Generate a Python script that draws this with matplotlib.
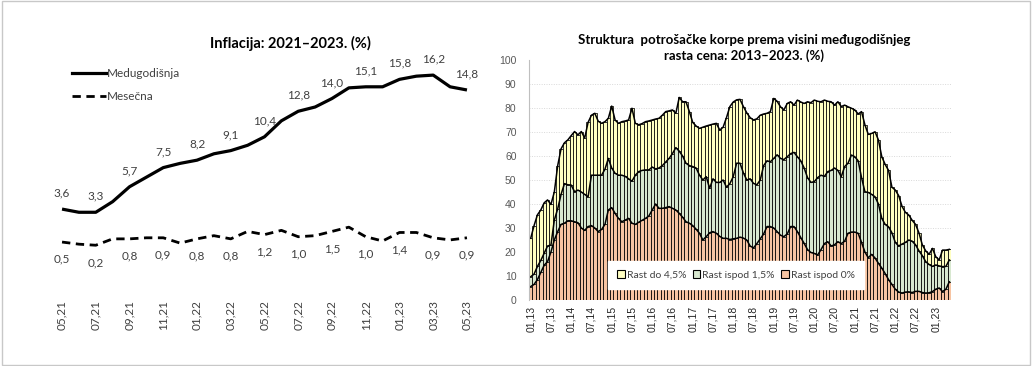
import numpy as np
import matplotlib
matplotlib.use('Agg')
import matplotlib.pyplot as plt
from matplotlib.patches import Rectangle, Patch
from matplotlib.lines import Line2D

plt.rcParams['font.family'] = ['Lato', 'DejaVu Sans']

# ---- lijevi grafikon: inflacija 05/21 - 05/23 ----
meseci = ['05,21', '06,21', '07,21', '08,21', '09,21', '10,21', '11,21', '12,21',
          '01,22', '02,22', '03,22', '04,22', '05,22', '06,22', '07,22', '08,22',
          '09,22', '10,22', '11,22', '12,22', '01,23', '02,23', '03,23', '04,23', '05,23']
medjugodisnja = [3.6, 3.3, 3.3, 4.3, 5.7, 6.6, 7.5, 7.9, 8.2, 8.8, 9.1, 9.6, 10.4,
                 11.9, 12.8, 13.2, 14.0, 15.0, 15.1, 15.1, 15.8, 16.1, 16.2, 15.1, 14.8]
mesecna = [0.5, 0.3, 0.2, 0.8, 0.8, 0.9, 0.9, 0.4, 0.8, 1.1, 0.8, 1.5, 1.2,
           1.6, 1.0, 1.1, 1.5, 1.9, 1.0, 0.6, 1.4, 1.4, 0.9, 0.7, 0.9]

# ---- desni grafikon: struktura korpe 01/13 - 05/23 (kumulativno, %) ----
rast_do_45 = [25.7, 31, 35.5, 37.5, 40.5, 41.7, 39.8, 45, 56, 63, 65.5, 66.7,
              68.5, 70.2, 68.8, 70.2, 67.5, 74, 77, 77.8, 74.5, 73.6, 74.3, 75.7,
              80.8, 75, 73.6, 74.3, 74.6, 75, 79.9, 73.6, 73, 73.5, 74.3, 74.6,
              75, 75.4, 75.7, 77, 78.5, 78.8, 79.2, 77.8, 84.4, 82.6, 82.6, 78.5,
              74, 72.5, 71.5, 72, 72.5, 72.9, 73.3, 73.6, 70.8, 72, 76, 80.6,
              82.5, 83.4, 83.6, 80.6, 78, 76, 75, 75.5, 77, 77.5, 77.8, 78.5,
              84, 82.8, 80.5, 79.2, 81.9, 82.6, 81.2, 83.3, 82.5, 81.9, 82.6, 82.2,
              83.3, 82.8, 82.6, 83.3, 82.8, 82.6, 81.2, 82.6, 80.6, 81.2, 80.5, 79.9,
              79.2, 77.5, 78.5, 73, 69, 69.4, 70.1, 66.7, 59.7, 56.5, 54, 47,
              45.8, 43.5, 39, 36.5, 35.4, 33.2, 31.5, 28, 23, 20.5, 19, 21.5,
              18, 16.7, 20.8, 20.8, 21.1]
rast_ispod_15 = [9.7, 10.8, 14, 16.5, 19.5, 22.5, 22.9, 33.3, 38, 44, 48.5, 48,
                 47.9, 45.1, 45.8, 45, 44, 43, 52, 52, 52, 52, 54.5, 59,
                 55, 52.8, 52, 52, 51.5, 50.5, 49.5, 52, 53.5, 54, 54.2, 54.2,
                 55.4, 54.6, 55, 56, 57.5, 59, 61, 63.5, 62, 60, 57, 56,
                 55.6, 55, 52, 50, 51.4, 46.5, 50.5, 49, 49, 50, 47, 48.5,
                 51.4, 57, 57, 53, 50, 50.5, 48.6, 48, 50, 56, 58, 57.6,
                 59, 60.5, 59, 58.5, 59.7, 61, 61.5, 59.7, 58, 55, 51, 49,
                 49.3, 51, 52, 51.5, 53.5, 54, 55, 54, 51.4, 55.6, 57, 60.4,
                 59.7, 58, 51, 45.1, 44.8, 44, 43, 40, 34, 31.5, 30.5, 28,
                 24, 22.5, 23.3, 24, 25, 24.5, 23, 20.5, 18.5, 16, 14.8, 14,
                 14.6, 14.2, 13.9, 14, 16.7]
rast_ispod_0 = [5.6, 6.5, 8.5, 11.5, 14.5, 16, 20, 25, 28.5, 31.5, 32, 33,
                33, 32.6, 32.2, 30, 29, 30.6, 31, 30, 28.5, 29.4, 31.5, 37.5,
                38.5, 36.1, 34, 32.6, 33.3, 34, 32, 31.5, 32.4, 33.2, 34, 35,
                37.5, 40, 38.2, 38.2, 38.5, 38.9, 38.2, 37.5, 36.1, 34.5, 32.6, 32,
                31, 29.5, 27.8, 25, 26.4, 28, 28.5, 27.8, 26.5, 25.7, 25.7, 25.2,
                25.5, 25.7, 26.2, 25.8, 25, 22.5, 21.7, 23.5, 25.5, 27.5, 30.6, 30.6,
                30, 28.5, 27, 26.4, 27.5, 30.6, 30.6, 28.5, 26, 23.6, 21, 19.8,
                19.4, 18.75, 21, 23.5, 24.3, 22.5, 23, 24.3, 23.5, 24.5, 27.8, 28.3,
                28.3, 27.8, 24, 20, 17.6, 19, 17.5, 15.3, 13.3, 11, 8.5, 6.5,
                4.5, 3.3, 2.9, 3.3, 3.4, 3.1, 3.6, 3.6, 3.1, 2.9, 3, 3.5,
                4.5, 5, 3.5, 4.5, 7.6]
oznake_x = ['01,13', '07,13', '01,14', '07,14', '01,15', '07,15', '01,16', '07,16',
            '01,17', '07,17', '01,18', '07,18', '01,19', '07,19', '01,20', '07,20',
            '01,21', '07,21', '01,22', '07,22', '01,23']
legenda = ['Rast do 4,5%', 'Rast ispod 1,5%', 'Rast ispod 0%']
boje = ['#FFFFC2', '#D8E8D0', '#F7C4A2']

W, H = 1032, 366
fig = plt.figure(figsize=(W / 100, H / 100), dpi=100)
fig.patches.append(Rectangle((0.002, 0.004), 0.996, 0.992, transform=fig.transFigure,
                             fill=False, edgecolor='#c8c8c8', lw=1))

def fr(x0, y0, x1, y1):
    # pikseli -> udeo figure
    return [x0 / W, 1 - y1 / H, (x1 - x0) / W, (y1 - y0) / H]

# ===== lijevo =====
ax1 = fig.add_axes(fr(53.6, 66.6, 475.4, 258))
x = np.arange(len(meseci))
ax1.plot(x, medjugodisnja, color='black', lw=2.3, solid_capstyle='butt')
ax1.plot(x, mesecna, color='black', lw=2.0, dashes=(3, 2))
ax1.set_xlim(-0.5, len(meseci) - 0.5)
ax1.set_ylim(-1, 17)
for s in ax1.spines.values():
    s.set_visible(False)
ax1.set_yticks([])
ax1.set_xticks(x[::2])
ax1.set_xticklabels(meseci[::2], rotation=90, fontsize=8.5, color='#404040')
ax1.tick_params(axis='x', length=0, pad=30)
for i in range(0, len(meseci), 2):
    ax1.annotate(f'{medjugodisnja[i]:.1f}'.replace('.', ','), (x[i], medjugodisnja[i]),
                 xytext=(0, 11.5), textcoords='offset points', ha='center', va='center',
                 fontsize=8.5, color='#404040')
    ax1.annotate(f'{mesecna[i]:.1f}'.replace('.', ','), (x[i], mesecna[i]),
                 xytext=(0, -12.5), textcoords='offset points', ha='center', va='center',
                 fontsize=8.5, color='#404040')
ax1.legend([Line2D([], [], color='black', lw=2.3), Line2D([], [], color='black', lw=2.0, dashes=(3, 2))],
           ['Medugodišnja', 'Mesečna'], loc='upper left', bbox_to_anchor=(72 / W, 1 - 68 / H),
           bbox_transform=fig.transFigure, frameon=False, fontsize=8.5, handlelength=2.9,
           handletextpad=0.05, labelspacing=1.05, borderpad=0, borderaxespad=0,
           labelcolor='#404040')
fig.text(290 / W, 1 - 43 / H, 'Inflacija: 2021–2023. (%)', ha='center', va='center',
         fontsize=10.5, fontweight='bold')

# ===== desno =====
ax2 = fig.add_axes(fr(529, 60, 951, 300))
n = len(rast_do_45)
xb = np.arange(n)
for vals, c in zip([rast_do_45, rast_ispod_15, rast_ispod_0], boje):
    ax2.bar(xb, vals, width=1.0, color=c, edgecolor='black', linewidth=0.55)
    ax2.plot(xb, vals, color='black', lw=1.1)
ax2.set_xlim(-0.5, n - 0.5)
ax2.set_ylim(0, 100)
ax2.set_yticks(np.arange(0, 101, 10))
ax2.tick_params(axis='y', length=0, labelsize=7.5, labelcolor='#595959', pad=9)
ax2.set_xticks(np.arange(0, n, 6))
ax2.set_xticklabels(oznake_x, rotation=90, fontsize=7.5, family='Liberation Sans', color='#262626')
for lab in ax2.get_yticklabels():
    lab.set_family('Liberation Sans')
ax2.tick_params(axis='x', length=0, pad=4)
ax2.set_axisbelow(True)
ax2.grid(axis='y', color='#d9d9d9', lw=0.7, ls=(0, (1, 1.5)))
ax2.get_ygridlines()[-1].set_visible(False)
for k in ['top', 'right', 'bottom']:
    ax2.spines[k].set_visible(False)
ax2.spines['left'].set_color('#bfbfbf')
ax2.spines['left'].set_linewidth(0.8)
handles = [Patch(facecolor=c, edgecolor='black', lw=0.8) for c in boje]
leg = ax2.legend(handles, legenda, loc='center', bbox_to_anchor=(736 / W, 1 - 275 / H),
                 bbox_transform=fig.transFigure, ncol=3, fontsize=7.5, frameon=True,
                 fancybox=False, handlelength=0.75, handleheight=0.75, handletextpad=0.2,
                 columnspacing=0.6, borderpad=0.9, labelcolor='#404040')
leg.get_frame().set_edgecolor('white')
leg.get_frame().set_alpha(1)
fig.text(744 / W, 1 - 48 / H,
         'Struktura  potrošačke korpe prema visini međugodišnjeg\nrasta cena: 2013–2023. (%)',
         ha='center', va='center', fontsize=9.5, fontweight='bold', linespacing=1.25)

fig.savefig('out.png', dpi=100)
